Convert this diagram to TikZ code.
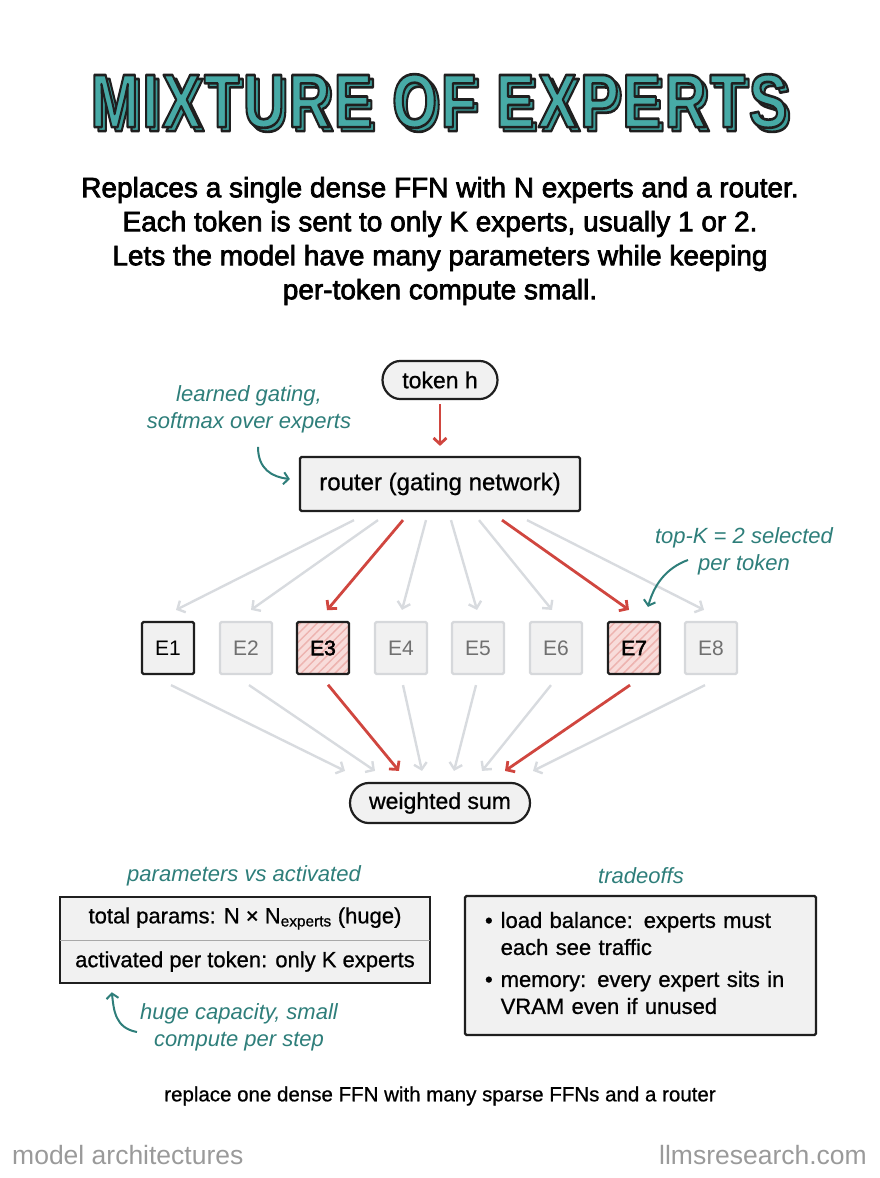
\documentclass[tikz,border=0pt]{standalone}
\usepackage{fontspec}
\setmainfont{Liberation Sans}
\newfontfamily\medfont[FakeBold=2.5]{Liberation Sans}
\newfontfamily\boxfont[FakeBold=0.8]{Liberation Sans}
\newfontfamily\ttlfont[LetterSpace=6]{Liberation Sans Bold}
\usepackage{tikz}
\usetikzlibrary{arrows.meta,patterns.meta,shapes.misc,calc}
\definecolor{tealc}{HTML}{2E7E7A}
\definecolor{tealt}{HTML}{47AAA6}
\definecolor{teals}{HTML}{3C9C98}
\definecolor{darkc}{HTML}{1F1F1F}
\definecolor{boxc}{HTML}{F1F1F1}
\definecolor{offc}{HTML}{D6D8DB}
\definecolor{offtext}{HTML}{707070}
\definecolor{arrc}{HTML}{D8DBDF}
\definecolor{redc}{HTML}{D0463F}
\definecolor{pinkc}{HTML}{F8DCDA}
\definecolor{hatchc}{HTML}{EDB3AF}
\definecolor{divc}{HTML}{A8A8A8}
\definecolor{footc}{HTML}{9A9A9A}
\newcommand{\ttltext}{\resizebox{697pt}{53pt}{\ttlfont\fontsize{74}{80}\selectfont
  \special{pdf:literal direct 2 Tr 2.6 w 1 j 0.12 0.12 0.12 RG}MIXTURE OF EXPERTS\special{pdf:literal direct 0 Tr}}}

\begin{document}
\begin{tikzpicture}[x=1pt,y=-1pt,
  box/.style={draw=darkc,line width=2.2pt,fill=boxc,inner sep=0pt,rounded corners=1.5pt},
  pill/.style={box,rounded rectangle},
  expoff/.style={draw=offc,line width=2.2pt,fill=boxc,text=offtext,minimum size=52pt,inner sep=0pt,rounded corners=1.5pt,font=\fontsize{21}{24}\selectfont},
  expon/.style={expoff,draw=darkc,text=black},
  exphot/.style={expon,preaction={fill=pinkc},pattern={Lines[angle=45,distance=6pt,line width=1.5pt]},pattern color=hatchc,font=\medfont\fontsize{21}{24}\selectfont},
  rowc/.style={fill=boxc,minimum width=370pt,minimum height=43pt,inner sep=0pt,font=\boxfont\fontsize{22}{26}\selectfont},
  grayarr/.style={draw=arrc,line width=2.4pt,-{Straight Barb[length=6pt,width=13pt]}},
  redarr/.style={draw=redc,line width=2.8pt,-{Straight Barb[length=6pt,width=13pt]}},
  notearr/.style={draw=tealc,line width=2pt,-{Straight Barb[length=5pt,width=12pt]}},
  note/.style={text=tealc,font=\itshape\fontsize{22}{27}\selectfont,align=center,inner sep=0pt},
  titleink/.style={inner sep=0pt},
]
\useasboundingbox (0,0) rectangle (880,1178);

% title with outline and shadow
\coordinate (ttl) at (439,101);
\node[titleink,text=teals] (tsh) at ($(ttl)+(4,4)$) {\ttltext};
\node[titleink,text=tealt] (ttlm) at (ttl) {\ttltext};

\node[font=\medfont\fontsize{28}{34}\selectfont,align=center,inner sep=0pt] (sub) at (440,241)
  {Replaces a single dense FFN with N experts and a router.\\
   Each token is sent to only K experts, usually 1 or 2.\\
   Lets the model have many parameters while keeping\\
   per-token compute small.};

% router
\node[pill,minimum width=115pt,minimum height=38pt,font=\boxfont\fontsize{23}{26}\selectfont] (tok) at (440,380) {token h};
\node[box,minimum width=280pt,minimum height=54pt,font=\boxfont\fontsize{24}{28}\selectfont] (router) at (440,484) {router (gating network)};
\draw[redarr] ([yshift=-4pt]tok.south) -- ([yshift=10pt]router.north);

\node[note] (lg) at (249,409) {learned gating,\\softmax over experts};
\draw[notearr] ([xshift=9pt,yshift=-14pt]lg.south) .. controls +(0,22) and +(-18,-2) .. ([xshift=-9pt,yshift=5pt]router.west);

% experts
\foreach \i/\x/\s in {1/168/expon,2/246/expoff,3/323/exphot,4/401/expoff,5/478/expoff,6/556/expoff,7/634/exphot,8/711/expoff}
  \node[\s] (e\i) at (\x,648) {E\i};

\node[pill,minimum width=180pt,minimum height=40pt,font=\boxfont\fontsize{23}{26}\selectfont] (ws) at (440,803) {weighted sum};

\foreach \i/\dx/\tx in {1/-86/8,2/-62/5,4/-14/1,5/11/-1,6/39/-4,8/87/-7}
  \draw[grayarr] ([xshift=\dx pt,yshift=-8pt]router.south) -- ([xshift=\tx pt,yshift=11pt]e\i.north);
\foreach \i/\sx/\ex in {1/3/-95,2/3/-65,4/2/-18,5/-2/14,6/-5/42,8/-6/93}
  \draw[grayarr] ([xshift=\sx pt,yshift=-10pt]e\i.south) -- ([xshift=\ex pt,yshift=11pt]ws.north);
\foreach \i/\dx/\tx in {3/-37/4,7/62/-5}
  \draw[redarr] ([xshift=\dx pt,yshift=-8pt]router.south) -- ([xshift=\tx pt,yshift=11pt]e\i.north);
\foreach \i/\sx/\ex in {3/5/-41,7/-4/65}
  \draw[redarr] ([xshift=\sx pt,yshift=-10pt]e\i.south) -- ([xshift=\ex pt,yshift=11pt]ws.north);

\node[note] (tk) at (744,551) {top-K = 2 selected\\per token};
\draw[notearr] ([xshift=-56pt,yshift=-9pt]tk.center) .. controls +(-22,8) and +(6,-22) .. ([xshift=14pt,yshift=14pt]e7.north);

% parameters vs activated
\node[note] (pva) at (244,876) {parameters vs activated};
\node[rowc] (tp1) at (245,918.5) {total params: N × N\textsubscript{experts} (huge)};
\node[rowc] (tp2) at (245,961.5) {activated per token: only K experts};
\draw[darkc,line width=2.2pt] (tp1.north west) rectangle (tp2.south east);
\draw[divc,line width=1.2pt] (tp1.south west) -- (tp1.south east);

\node[note] (hc) at (239,1027) {huge capacity, small\\compute per step};
\draw[notearr] ([xshift=-3pt,yshift=-5pt]hc.west) .. controls +(-22,-4) and +(2,18) .. ([xshift=52pt,yshift=-9pt]tp2.south west);

% tradeoffs
\node[note] (tro) at (641,876) {tradeoffs};
\node[box,text width=311pt,inner xsep=20pt,minimum height=139pt,align=left,font=\boxfont\fontsize{22}{27}\selectfont] (trd) at (640.5,965.5)
  {\begin{tabular}{@{}l@{\hspace{8pt}}l@{}}
   • & load balance: experts must\\
     & each see traffic\\[5pt]
   • & memory: every expert sits in\\
     & VRAM even if unused
   \end{tabular}};

% footer
\node[font=\boxfont\fontsize{20.5}{24}\selectfont,inner sep=0pt] (foot) at (440,1096) {replace one dense FFN with many sparse FFNs and a router};
\node[anchor=west,text=footc,font=\fontsize{26.5}{30}\selectfont,inner sep=0pt] (lm) at (12,1155) {model architectures};
\node[anchor=east,text=footc,font=\fontsize{26.5}{30}\selectfont,inner sep=0pt] (site) at (867,1155) {llmsresearch.com};
\end{tikzpicture}
\end{document}
